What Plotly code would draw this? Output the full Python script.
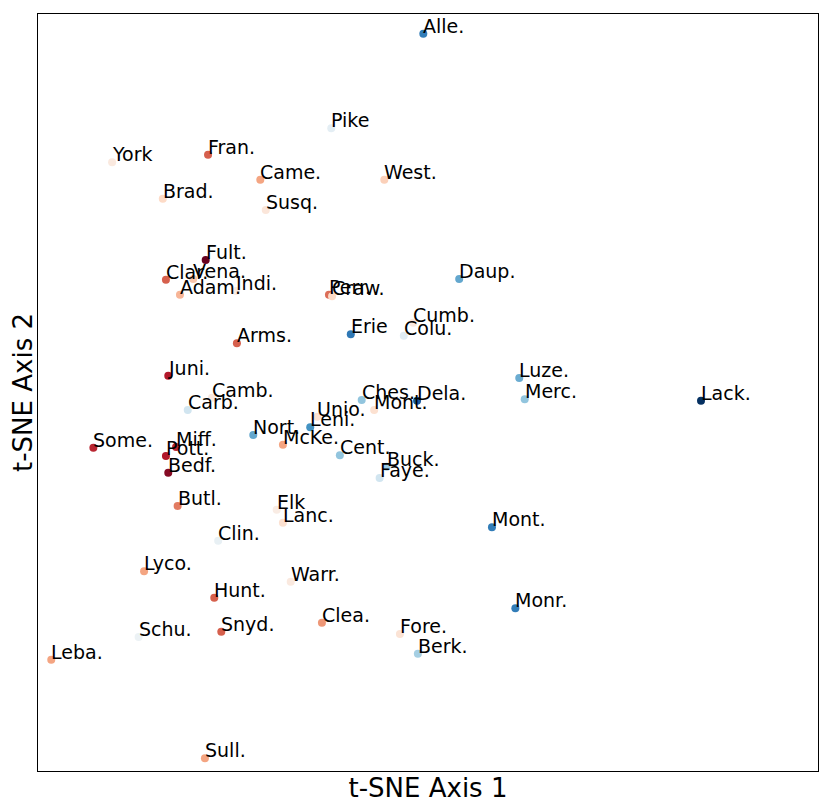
import plotly.graph_objects as go
import plotly.colors as pc

labels = ["Alle.", "Pike", "York", "Fran.", "Came.", "West.", "Brad.", "Susq.", "Fult.", "Clar.",
          "Vena.", "Adam.", "Indi.", "Perr.", "Craw.", "Daup.", "Erie", "Cumb.", "Colu.", "Arms.",
          "Juni.", "Camb.", "Carb.", "Luze.", "Merc.", "Lack.", "Ches.", "Dela.", "Mont.", "Unio.",
          "Leni.", "Nort.", "McKe.", "Cent.", "Buck.", "Faye.", "Some.", "Miff.", "Pott.", "Bedf.",
          "Butl.", "Elk", "Lanc.", "Clin.", "Mont.", "Lyco.", "Warr.", "Hunt.", "Monr.", "Snyd.",
          "Clea.", "Fore.", "Berk.", "Schu.", "Leba.", "Sull."]

tsne_x = [49.4, 37.6, 9.5, 21.8, 28.5, 44.4, 16.0, 29.2, 21.5, 16.4,
          19.9, 18.2, 25.4, 37.3, 37.7, 54.0, 40.1, 48.1, 46.9, 25.5,
          16.7, 22.3, 19.2, 61.7, 62.4, 85.0, 41.5, 48.6, 43.1, 35.8,
          34.9, 27.6, 31.4, 38.7, 44.7, 43.8, 7.1, 17.7, 16.4, 16.7,
          17.9, 30.6, 31.4, 23.1, 58.2, 13.6, 32.4, 22.6, 61.2, 23.5,
          36.4, 46.4, 48.7, 12.9, 1.7, 21.4]

tsne_y = [97.4, 84.9, 80.4, 81.4, 78.1, 78.1, 75.6, 74.1, 67.5, 64.9,
          65.0, 62.9, 63.4, 62.9, 62.7, 65.0, 57.7, 59.2, 57.5, 56.5,
          52.2, 49.3, 47.7, 51.9, 49.1, 48.9, 49.0, 48.9, 47.7, 46.8,
          45.4, 44.4, 43.1, 41.7, 40.2, 38.7, 42.7, 42.8, 41.6, 39.4,
          35.0, 34.5, 32.8, 30.4, 32.2, 26.4, 25.0, 22.9, 21.5, 18.4,
          19.6, 18.1, 15.5, 17.7, 14.7, 1.7]

color_value = [0.85, 0.55, 0.45, 0.2, 0.3, 0.38, 0.4, 0.44, 0.0, 0.2,
               0.36, 0.33, 0.46, 0.22, 0.4, 0.76, 0.86, 0.45, 0.56, 0.2,
               0.1, 0.45, 0.6, 0.75, 0.7, 1.0, 0.7, 0.92, 0.42, 0.42,
               0.8, 0.76, 0.3, 0.7, 0.68, 0.6, 0.12, 0.12, 0.1, 0.04,
               0.24, 0.46, 0.42, 0.54, 0.85, 0.3, 0.45, 0.2, 0.85, 0.2,
               0.28, 0.43, 0.67, 0.53, 0.3, 0.3]

rdbu = pc.diverging.RdBu
scale = [[i / (len(rdbu) - 1), c] for i, c in enumerate(rdbu)]

fig = go.Figure()
fig.add_trace(go.Scatter(
    x=tsne_x, y=tsne_y, mode="markers",
    marker=dict(size=8, color=color_value, colorscale=scale, cmin=0, cmax=1,
                showscale=False, line=dict(width=0)),
    hoverinfo="text", text=labels,
))

for lx, ly, lab in zip(tsne_x, tsne_y, labels):
    fig.add_annotation(x=lx, y=ly, text=lab, showarrow=False,
                       xanchor="left", yanchor="bottom", xshift=-2, yshift=-5,
                       font=dict(family="DejaVu Sans", size=19, color="black"))

fig.update_layout(
    width=830, height=810,
    margin=dict(l=30, r=20, t=6, b=47),
    paper_bgcolor="white", plot_bgcolor="white",
    showlegend=False,
    font=dict(family="DejaVu Sans", color="black"),
    xaxis=dict(range=[0, 100], showticklabels=False, ticks="", showgrid=False, zeroline=False,
               showline=True, mirror=True, linecolor="black", linewidth=1, automargin=False,
               title=dict(text="t-SNE Axis 1", font=dict(size=26), standoff=7)),
    yaxis=dict(range=[0, 100], showticklabels=False, ticks="", showgrid=False, zeroline=False,
               showline=True, mirror=True, linecolor="black", linewidth=1, automargin=False,
               title=dict(text="t-SNE Axis 2", font=dict(size=26), standoff=6)),
)

fig.write_html("out.html")
